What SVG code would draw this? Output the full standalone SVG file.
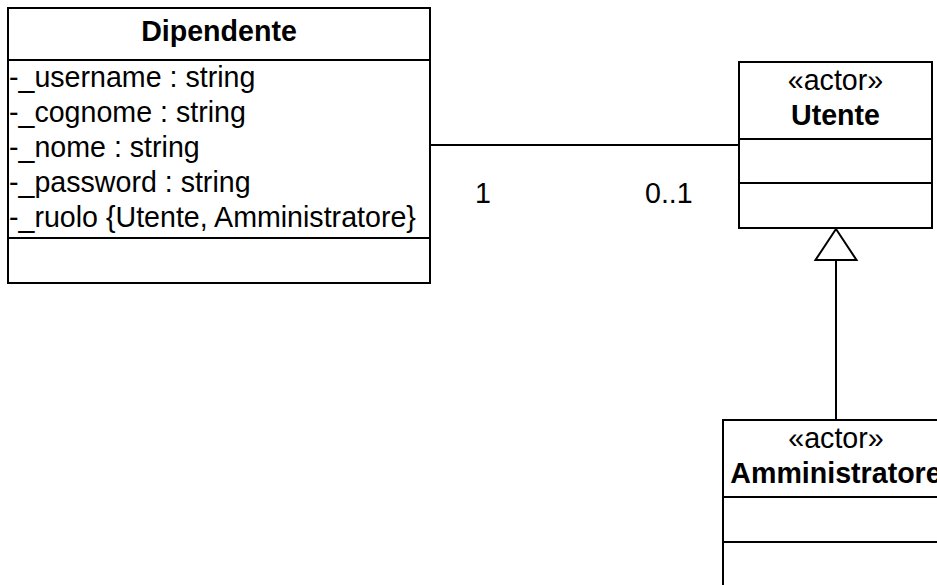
<svg xmlns="http://www.w3.org/2000/svg" width="937" height="585" viewBox="0 0 937 585">
<style>
.box{fill:#fff;stroke:#000;stroke-width:2}
.sep{stroke:#000;stroke-width:2}
.conn{stroke:#000;stroke-width:2;fill:none}
text{font-family:"Liberation Sans",Arial,sans-serif;font-size:28.6px;fill:#000}
.b{font-weight:bold}
.c{text-anchor:middle}
</style>
<rect width="937" height="585" fill="#fff"/>
<g id="connectors">
<line class="conn" x1="430" y1="145" x2="739" y2="145"/>
<line class="conn" x1="836" y1="260" x2="836" y2="420"/>
<polygon class="conn" points="836,229 815.5,260 856.5,260" fill="#fff"/>
<text x="475" y="203">1</text>
<text x="645" y="203">0..1</text>
</g>
<g id="Dipendente">
<rect class="box" x="8" y="8" width="422" height="275"/>
<line class="sep" x1="8" y1="60" x2="430" y2="60"/>
<line class="sep" x1="8" y1="238" x2="430" y2="238"/>
<text class="b c" x="219" y="41">Dipendente</text>
<text x="9" y="87">-_username : string</text>
<text x="9" y="122">-_cognome : string</text>
<text x="9" y="157">-_nome : string</text>
<text x="9" y="192">-_password : string</text>
<text x="9" y="227">-_ruolo {Utente, Amministratore}</text>
</g>
<g id="Utente">
<rect class="box" x="739" y="62" width="193" height="166"/>
<line class="sep" x1="739" y1="139" x2="932" y2="139"/>
<line class="sep" x1="739" y1="183" x2="932" y2="183"/>
<text class="c" x="835.5" y="90">«actor»</text>
<text class="b c" x="835.5" y="125">Utente</text>
</g>
<g id="Amministratore">
<rect class="box" x="723" y="420" width="226" height="200"/>
<line class="sep" x1="723" y1="497" x2="949" y2="497"/>
<line class="sep" x1="723" y1="542" x2="949" y2="542"/>
<text class="c" x="836" y="448">«actor»</text>
<text class="b c" x="836" y="483">Amministratore</text>
</g>
</svg>
